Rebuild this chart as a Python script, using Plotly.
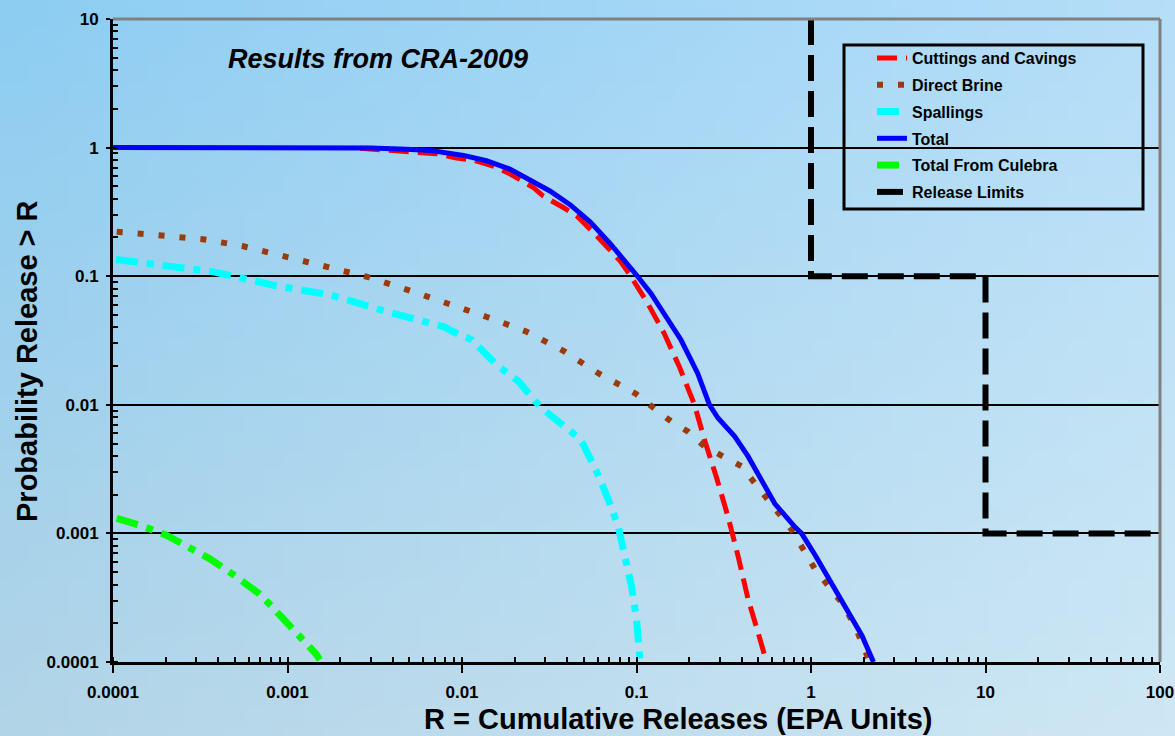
import zlib, struct, base64
import plotly.graph_objects as go

# ---------------- data ----------------
cuttings_x = [0.0026, 0.0059, 0.00716, 0.0093, 0.0116, 0.0151, 0.0188, 0.0257, 0.0292, 0.0381,
              0.0454, 0.0566, 0.0646, 0.0804, 0.0927, 0.105, 0.116, 0.144, 0.176, 0.215,
              0.245, 0.286, 0.334, 0.382, 0.436, 0.497, 0.556]
cuttings_y = [0.99, 0.926, 0.894, 0.83, 0.80, 0.718, 0.626, 0.488, 0.42, 0.342,
              0.295, 0.219, 0.183, 0.132, 0.1, 0.0774, 0.0614, 0.036, 0.0198, 0.01,
              0.00536, 0.00278, 0.00136, 0.000667, 0.000308, 0.00017, 0.0001]

brine_x = [0.000105, 0.000186, 0.000327, 0.000558, 0.00096, 0.00166, 0.00285, 0.00482, 0.00817,
           0.0139, 0.0233, 0.0386, 0.0604, 0.0778, 0.099, 0.126, 0.158, 0.197, 0.245, 0.313,
           0.40, 0.475, 0.555, 0.662, 0.774, 0.904, 1.055, 1.26, 1.50, 1.79, 2.14]
brine_y = [0.222, 0.209, 0.194, 0.171, 0.143, 0.12, 0.099, 0.0787, 0.062,
           0.0482, 0.0372, 0.026, 0.0176, 0.0147, 0.0122, 0.0094, 0.00743, 0.0062, 0.00475, 0.00397,
           0.00333, 0.00247, 0.00189, 0.00136, 0.00107, 0.00075, 0.000526, 0.00039, 0.00029, 0.00019, 0.000105]

spall_x = [0.000104, 0.000174, 0.000377, 0.000832, 0.00177, 0.00372, 0.0079, 0.0089, 0.0114,
           0.0158, 0.0211, 0.0279, 0.0373, 0.0454, 0.0496, 0.059, 0.0689, 0.0785, 0.0857,
           0.0936, 0.1, 0.1044, 0.105]
spall_y = [0.135, 0.124, 0.108, 0.085, 0.0713, 0.0529, 0.0404, 0.037, 0.032,
           0.0204, 0.0152, 0.0097, 0.0072, 0.0057, 0.0049, 0.00304, 0.00184, 0.00114, 0.000667,
           0.00039, 0.000215, 0.000117, 0.0001]

total_x = [0.0001, 0.001, 0.003, 0.0048, 0.0066, 0.0102, 0.0138, 0.0188, 0.0245, 0.0319,
           0.0416, 0.0542, 0.0705, 0.0887, 0.1013, 0.121, 0.151, 0.18, 0.224, 0.262,
           0.293, 0.365, 0.436, 0.52, 0.621, 0.81, 0.883, 1.055, 1.37, 1.64, 1.96, 2.28]
total_y = [1.0, 1.0, 0.995, 0.97, 0.95, 0.87, 0.79, 0.68, 0.565, 0.46,
           0.36, 0.265, 0.18, 0.125, 0.1, 0.0735, 0.0456, 0.0319, 0.0176, 0.01,
           0.00789, 0.00568, 0.00397, 0.00258, 0.0017, 0.00112, 0.001, 0.00068, 0.000368, 0.000247,
           0.00016, 0.0001]

culebra_x = [0.000105, 0.000142, 0.000202, 0.000275, 0.000357, 0.000497, 0.00069, 0.000822,
             0.0011, 0.00146, 0.00153]
culebra_y = [0.00131, 0.00116, 0.00097, 0.000787, 0.000637, 0.000471, 0.000339, 0.000266,
             0.000175, 0.000115, 0.000104]

limits_x = [1, 1, 10, 10, 100]
limits_y = [10, 0.1, 0.1, 0.001, 0.001]

x_tick_vals = [0.0001, 0.001, 0.01, 0.1, 1, 10, 100]
x_tick_text = ["0.0001", "0.001", "0.01", "0.1", "1", "10", "100"]
y_tick_vals = [0.0001, 0.001, 0.01, 0.1, 1, 10]
y_tick_text = ["0.0001", "0.001", "0.01", "0.1", "1", "10"]

series_names = ["Cuttings and Cavings", "Direct Brine", "Spallings", "Total",
                "Total From Culebra", "Release Limits"]

# ---------------- layout geometry ----------------
W, H = 1175, 736
ML, MR, MT, MB = 113, 15, 19, 74
PW, PH = W - ML - MR, H - MT - MB
FONT = "Liberation Sans, Arial, sans-serif"


def px_x(p):
    return (p - ML) / PW


def px_y(p):
    return (H - MB - p) / PH


def sky_png(w=60, h=40):
    tl, tr = (141, 205, 242), (181, 222, 248)
    bl, br = (178, 212, 231), (206, 231, 244)
    raw = bytearray()
    for j in range(h):
        v = j / (h - 1)
        raw.append(0)
        for i in range(w):
            u = i / (w - 1)
            for k in range(3):
                c = ((1 - u) * (1 - v) * tl[k] + u * (1 - v) * tr[k]
                     + (1 - u) * v * bl[k] + u * v * br[k])
                raw.append(int(round(c)))

    def chunk(t, d):
        return struct.pack(">I", len(d)) + t + d + struct.pack(">I", zlib.crc32(t + d) & 0xffffffff)

    png = (b"\x89PNG\r\n\x1a\n"
           + chunk(b"IHDR", struct.pack(">IIBBBBB", w, h, 8, 2, 0, 0, 0))
           + chunk(b"IDAT", zlib.compress(bytes(raw)))
           + chunk(b"IEND", b""))
    return "data:image/png;base64," + base64.b64encode(png).decode()


fig = go.Figure()

styles = [
    dict(color="#ff0000", width=5, dash="20px,9px"),
    dict(color="#9c3b0a", width=6, dash="6px,15px"),
    dict(color="#00ffff", width=7, dash="22px,9px,7px,9px"),
    dict(color="#0000ff", width=5, dash="solid"),
    dict(color="#00ff00", width=7, dash="22px,9px,7px,9px"),
    dict(color="#000000", width=6, dash="26px,10px"),
]
xs = [cuttings_x, brine_x, spall_x, total_x, culebra_x, limits_x]
ys = [cuttings_y, brine_y, spall_y, total_y, culebra_y, limits_y]

for i, (name, x, y, st) in enumerate(zip(series_names, xs, ys, styles)):
    fig.add_trace(go.Scatter(x=x, y=y, mode="lines", name=name, line=st,
                             legendgroup=f"g{i}"))

tickfont = dict(family=FONT, size=17, color="black", weight="bold")

fig.update_xaxes(type="log", range=[-4, 2], showgrid=False, zeroline=False, automargin=False,
                 showline=True, linecolor="black", linewidth=3,
                 ticks="outside", ticklen=8, tickwidth=2, tickcolor="black",
                 tickvals=x_tick_vals, ticktext=x_tick_text, tickfont=tickfont,
                 ticklabelstandoff=5,
                 minor=dict(ticks="inside", ticklen=5, tickwidth=2, tickcolor="black",
                            dtick="D1", showgrid=False))
fig.update_yaxes(type="log", range=[-4, 1], showgrid=True, gridcolor="black", gridwidth=2,
                 zeroline=False, showline=True, linecolor="black", linewidth=3, automargin=False,
                 ticks="outside", ticklen=4, tickwidth=2, tickcolor="black",
                 tickvals=y_tick_vals, ticktext=y_tick_text, tickfont=tickfont,
                 ticklabelstandoff=4,
                 minor=dict(ticks="inside", ticklen=5, tickwidth=2, tickcolor="black",
                            dtick="D1", showgrid=False))

fig.update_layout(
    width=W, height=H,
    margin=dict(l=ML, r=MR, t=MT, b=MB, pad=0, autoexpand=False),
    paper_bgcolor="#a9d6f1",
    plot_bgcolor="rgba(0,0,0,0)",
    font=dict(family=FONT, color="black"),
    showlegend=True,
    legend=dict(x=px_x(872), y=px_y(41), xanchor="left", yanchor="top",
                bgcolor="rgba(0,0,0,0)", borderwidth=0,
                font=dict(family=FONT, size=16, color="black", weight="bold"),
                traceorder="grouped", tracegroupgap=3),
    images=[dict(source=sky_png(), xref="paper", yref="paper",
                 x=-ML / PW, y=1 + MT / PH, sizex=W / PW, sizey=H / PH,
                 xanchor="left", yanchor="top", sizing="stretch", layer="below")],
    shapes=[
        dict(type="line", xref="paper", yref="paper", x0=0, x1=1, y0=1, y1=1,
             line=dict(color="#808080", width=3), layer="above"),
        dict(type="line", xref="paper", yref="paper", x0=1, x1=1, y0=0, y1=1,
             line=dict(color="#808080", width=3), layer="above"),
        dict(type="rect", xref="paper", yref="paper",
             x0=px_x(844), x1=px_x(1143), y0=px_y(209), y1=px_y(45),
             line=dict(color="black", width=3), fillcolor="rgba(0,0,0,0)", layer="above"),
    ],
    annotations=[
        dict(text="Results from CRA-2009", xref="paper", yref="paper",
             x=px_x(378), y=px_y(59), xanchor="center", yanchor="middle",
             showarrow=False,
             font=dict(family=FONT, size=27, color="black", weight="bold", style="italic")),
        dict(text="R = Cumulative Releases (EPA Units)", xref="paper", yref="paper",
             x=px_x(678), y=px_y(719), xanchor="center", yanchor="middle",
             showarrow=False, font=dict(family=FONT, size=29, color="black", weight="bold")),
        dict(text="Probability Release > R", xref="paper", yref="paper",
             x=px_x(27), y=px_y(361), xanchor="center", yanchor="middle",
             textangle=-90, showarrow=False,
             font=dict(family=FONT, size=29, color="black", weight="bold")),
    ],
)

fig.write_html("out.html",
               config={"displayModeBar": False},
               post_script="document.body.style.margin='0';"
                           "document.body.style.overflow='hidden';")
